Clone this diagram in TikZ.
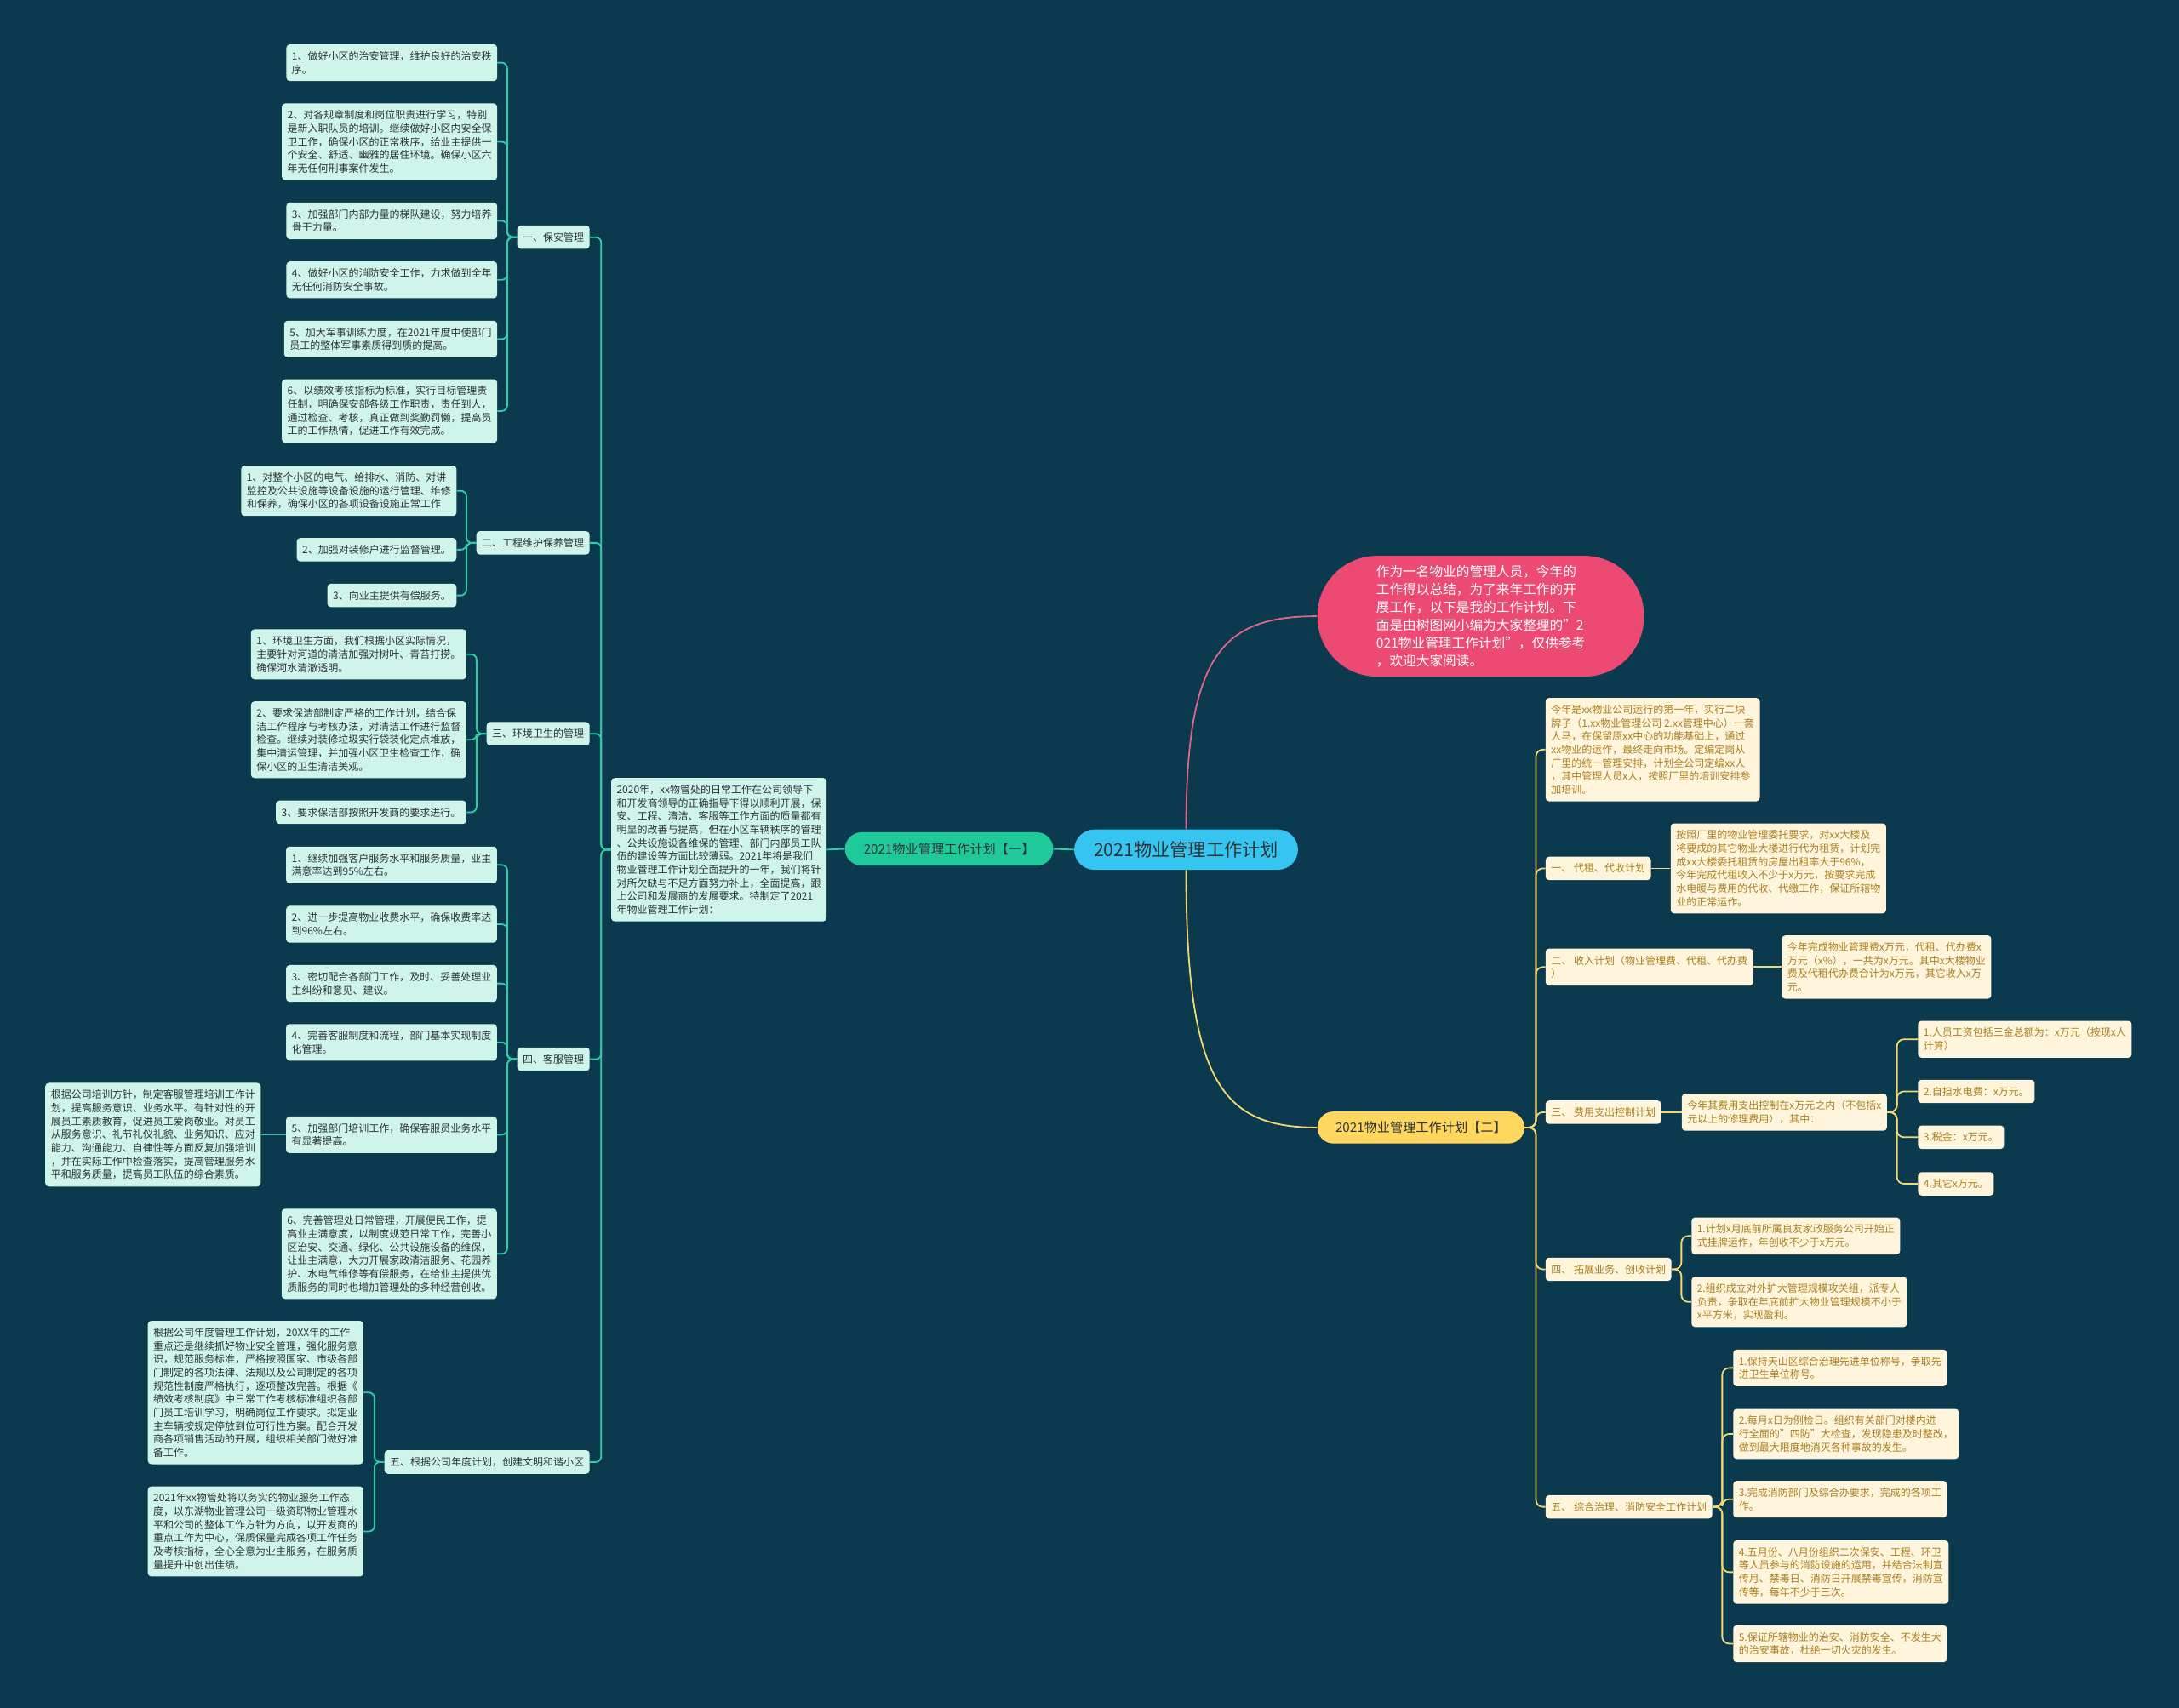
\documentclass[tikz,border=0pt]{standalone}
\usepackage{fontspec}
\setmainfont{Noto Sans CJK SC}
\definecolor{bgc}{HTML}{0B394D}
\definecolor{rootblue}{HTML}{35C5F0}
\definecolor{pinkc}{HTML}{EC4A73}
\definecolor{pinkl}{HTML}{E0648C}
\definecolor{greenc}{HTML}{1FC99A}
\definecolor{tealc}{HTML}{2BD1A6}
\definecolor{yellowc}{HTML}{FFD65E}
\definecolor{yell}{HTML}{F3D872}
\definecolor{mintc}{HTML}{CFF5EB}
\definecolor{creamc}{HTML}{FEF5DC}
\definecolor{inkc}{HTML}{2D3436}
\definecolor{goldc}{HTML}{AA7E1E}
\tikzset{
  rootbox/.style={fill=rootblue, text=inkc, rounded corners=14.5pt, minimum width=161pt, minimum height=29pt, inner sep=0pt, font=\fontsize{13}{15}\selectfont},
  pinkbox/.style={fill=pinkc, text=white, rounded corners=43pt, minimum width=235pt, minimum height=87pt, align=left, font=\fontsize{9.6}{12.8}\selectfont},
  greenbox/.style={fill=greenc, text=inkc, rounded corners=12pt, minimum width=150pt, minimum height=24pt, inner sep=0pt, font=\fontsize{9.3}{11}\selectfont},
  yellowbox/.style={fill=yellowc, text=inkc, rounded corners=11.5pt, minimum width=149pt, minimum height=23pt, inner sep=0pt, font=\fontsize{9.3}{11}\selectfont},
  leafL/.style={fill=mintc, text=inkc, rounded corners=2.5pt, inner xsep=4pt, inner ysep=5pt, align=left, font=\fontsize{7.35}{9.6}\selectfont},
  leafR/.style={leafL, fill=creamc, text=goldc},
  tealline/.style={draw=tealc, line width=1.1pt, rounded corners=4pt},
  yelline/.style={draw=yell, line width=1.1pt, rounded corners=5pt},
  pinkline/.style={draw=pinkl, line width=1.1pt}
}
\begin{document}
\begin{tikzpicture}[x=1pt, y=-1pt]
  \fill[bgc] (0,0) rectangle (1568,1229);
  \useasboundingbox (0,0) rectangle (1568,1229);

  % centre
  \node[rootbox] (root) at (853.5,611.5) {2021物业管理工作计划};
  \node[pinkbox] (intro) at (1065.5,443.5) {作为一名物业的管理人员，今年的\\工作得以总结，为了来年工作的开\\展工作，以下是我的工作计划。下\\面是由树图网小编为大家整理的"2\\021物业管理工作计划"，仅供参考\\，欢迎大家阅读。};
  \node[greenbox] (plan1) at (683,611) {2021物业管理工作计划【一】};
  \node[yellowbox] (plan2) at (1022.5,811.5) {2021物业管理工作计划【二】};
  \draw[pinkline] (root.north) .. controls (853.5,470) and (880,443.5) .. (intro.west);
  \draw[yelline] (root.south) .. controls (853.5,780) and (880,811.5) .. (plan2.west);
  \draw[tealline] (root.west) -- (plan1.east);

  % left half
  \node[leafL, anchor=east] (summary) at (595,611.5) {2020年，xx物管处的日常工作在公司领导下\\和开发商领导的正确指导下得以顺利开展，保\\安、工程、清洁、客服等工作方面的质量都有\\明显的改善与提高，但在小区车辆秩序的管理\\、公共设施设备维保的管理、部门内部员工队\\伍的建设等方面比较薄弱。2021年将是我们\\物业管理工作计划全面提升的一年，我们将针\\对所欠缺与不足方面努力补上，全面提高，跟\\上公司和发展商的发展要求。特制定了2021\\年物业管理工作计划：};
  \draw[tealline] (plan1.west) -- (summary.east);

  \node[leafL, anchor=east] (sa) at (424.5,170.7) {一、保安管理};
  \node[leafL, anchor=east] (gc) at (424.5,390.7) {二、工程维护保养管理};
  \node[leafL, anchor=east] (hj) at (424.5,528.1) {三、环境卫生的管理};
  \node[leafL, anchor=east] (kf) at (424.5,762.3) {四、客服管理};
  \node[leafL, anchor=east] (wm) at (424.5,1052.2) {五、根据公司年度计划，创建文明和谐小区};
  \foreach \br in {sa,gc,hj,kf,wm}
    \draw[tealline] (summary.west) -- ++(-7,0) |- (\br.east);

  \node[leafL, anchor=east] (sa1) at (358,45.1) {1、做好小区的治安管理，维护良好的治安秩\\序。};
  \node[leafL, anchor=east] (sa2) at (358,102) {2、对各规章制度和岗位职责进行学习，特别\\是新入职队员的培训。继续做好小区内安全保\\卫工作，确保小区的正常秩序，给业主提供一\\个安全、舒适、幽雅的居住环境。确保小区六\\年无任何刑事案件发生。};
  \node[leafL, anchor=east] (sa3) at (358,158.9) {3、加强部门内部力量的梯队建设，努力培养\\骨干力量。};
  \node[leafL, anchor=east] (sa4) at (358,201.4) {4、做好小区的消防安全工作，力求做到全年\\无任何消防安全事故。};
  \node[leafL, anchor=east] (sa5) at (358,244) {5、加大军事训练力度，在2021年度中使部门\\员工的整体军事素质得到质的提高。};
  \node[leafL, anchor=east] (sa6) at (358,295.8) {6、以绩效考核指标为标准，实行目标管理责\\任制，明确保安部各级工作职责，责任到人，\\通过检查、考核，真正做到奖勤罚懒，提高员\\工的工作热情，促进工作有效完成。};
  \foreach \n in {1,...,6}
    \draw[tealline] (sa.west) -- ++(-7,0) |- (sa\n.east);

  \node[leafL, anchor=east] (gc1) at (328.7,353.2) {1、对整个小区的电气、给排水、消防、对讲\\监控及公共设施等设备设施的运行管理、维修\\和保养，确保小区的各项设备设施正常工作};
  \node[leafL, anchor=east] (gc2) at (328.7,395.6) {2、加强对装修户进行监督管理。};
  \node[leafL, anchor=east] (gc3) at (328.7,428.5) {3、向业主提供有偿服务。};
  \foreach \n in {1,2,3}
    \draw[tealline] (gc.west) -- ++(-7,0) |- (gc\n.east);

  \node[leafL, anchor=east] (hj1) at (335.8,470.9) {1、环境卫生方面，我们根据小区实际情况，\\主要针对河道的清洁加强对树叶、青苔打捞。\\确保河水清澈透明。};
  \node[leafL, anchor=east] (hj2) at (335.8,532.4) {2、要求保洁部制定严格的工作计划，结合保\\洁工作程序与考核办法，对清洁工作进行监督\\检查。继续对装修垃圾实行袋装化定点堆放，\\集中清运管理，并加强小区卫生检查工作，确\\保小区的卫生清洁美观。};
  \node[leafL, anchor=east] (hj3) at (335.8,584.6) {3、要求保洁部按照开发商的要求进行。};
  \foreach \n in {1,2,3}
    \draw[tealline] (hj.west) -- ++(-7,0) |- (hj\n.east);

  \node[leafL, anchor=east] (kf1) at (357.8,622.5) {1、继续加强客户服务水平和服务质量，业主\\满意率达到95\%左右。};
  \node[leafL, anchor=east] (kf2) at (357.8,665.2) {2、进一步提高物业收费水平，确保收费率达\\到96\%左右。};
  \node[leafL, anchor=east] (kf3) at (357.8,707.8) {3、密切配合各部门工作，及时、妥善处理业\\主纠纷和意见、建议。};
  \node[leafL, anchor=east] (kf4) at (357.8,750.2) {4、完善客服制度和流程，部门基本实现制度\\化管理。};
  \node[leafL, anchor=east] (kf5) at (357.8,816.7) {5、加强部门培训工作，确保客服员业务水平\\有显著提高。};
  \node[leafL, anchor=east] (kf6) at (357.8,902.4) {6、完善管理处日常管理，开展便民工作，提\\高业主满意度，以制度规范日常工作，完善小\\区治安、交通、绿化、公共设施设备的维保，\\让业主满意，大力开展家政清洁服务、花园养\\护、水电气维修等有偿服务，在给业主提供优\\质服务的同时也增加管理处的多种经营创收。};
  \foreach \n in {1,...,6}
    \draw[tealline] (kf.west) -- ++(-7,0) |- (kf\n.east);
  \node[leafL, anchor=east] (kf5a) at (187.8,816.7) {根据公司培训方针，制定客服管理培训工作计\\划，提高服务意识、业务水平。有针对性的开\\展员工素质教育，促进员工爱岗敬业。对员工\\从服务意识、礼节礼仪礼貌、业务知识、应对\\能力、沟通能力、自律性等方面反复加强培训\\，并在实际工作中检查落实，提高管理服务水\\平和服务质量，提高员工队伍的综合素质。};
  \draw[tealline] (kf5.west) -- (kf5a.east);

  \node[leafL, anchor=east] (wm1) at (261.6,1002.2) {根据公司年度管理工作计划，20XX年的工作\\重点还是继续抓好物业安全管理，强化服务意\\识，规范服务标准，严格按照国家、市级各部\\门制定的各项法律、法规以及公司制定的各项\\规范性制度严格执行，逐项整改完善。根据《\\绩效考核制度》中日常工作考核标准组织各部\\门员工培训学习，明确岗位工作要求。拟定业\\主车辆按规定停放到位可行性方案。配合开发\\商各项销售活动的开展，组织相关部门做好准\\备工作。};
  \node[leafL, anchor=east] (wm2) at (261.6,1102.2) {2021年xx物管处将以务实的物业服务工作态\\度，以东湖物业管理公司一级资职物业管理水\\平和公司的整体工作方针为方向，以开发商的\\重点工作为中心，保质保量完成各项工作任务\\及考核指标，全心全意为业主服务，在服务质\\量提升中创出佳绩。};
  \foreach \n in {1,2}
    \draw[tealline] (wm.west) -- ++(-7,0) |- (wm\n.east);

  % right half
  \node[leafR, anchor=west] (jn) at (1112,539.5) {今年是xx物业公司运行的第一年，实行二块\\牌子（1.xx物业管理公司 2.xx管理中心）一套\\人马，在保留原xx中心的功能基础上，通过\\xx物业的运作，最终走向市场。定编定岗从\\厂里的统一管理安排，计划全公司定编xx人\\，其中管理人员x人，按照厂里的培训安排参\\加培训。};
  \node[leafR, anchor=west] (dz) at (1112,625) {一、 代租、代收计划};
  \node[leafR, anchor=west] (sr) at (1112,696) {二、 收入计划（物业管理费、代租、代办费\\）};
  \node[leafR, anchor=west] (fy) at (1112,800.5) {三、 费用支出控制计划};
  \node[leafR, anchor=west] (tz) at (1112,913.5) {四、 拓展业务、创收计划};
  \node[leafR, anchor=west] (zz) at (1112,1084.5) {五、 综合治理、消防安全工作计划};
  \foreach \br in {jn,dz,sr,fy,tz,zz}
    \draw[yelline] (plan2.east) -- ++(8,0) |- (\br.west);

  \node[leafR, anchor=west] (dz1) at (1202,625) {按照厂里的物业管理委托要求，对xx大楼及\\将要成的其它物业大楼进行代为租赁，计划完\\成xx大楼委托租赁的房屋出租率大于96\%，\\今年完成代租收入不少于x万元，按要求完成\\水电暖与费用的代收、代缴工作，保证所辖物\\业的正常运作。};
  \draw[yelline] (dz.east) -- (dz1.west);
  \node[leafR, anchor=west] (sr1) at (1282,696) {今年完成物业管理费x万元，代租、代办费x\\万元（x\%），一共为x万元。其中x大楼物业\\费及代租代办费合计为x万元，其它收入x万\\元。};
  \draw[yelline] (sr.east) -- (sr1.west);

  \node[leafR, anchor=west] (fy1) at (1210,800.5) {今年其费用支出控制在x万元之内（不包括x\\元以上的修理费用），其中：};
  \draw[yelline] (fy.east) -- (fy1.west);
  \node[leafR, anchor=west] (fy1a) at (1380,748) {1.人员工资包括三金总额为：x万元（按现x人\\计算）};
  \node[leafR, anchor=west] (fy1b) at (1380,785.5) {2.自担水电费：x万元。};
  \node[leafR, anchor=west] (fy1c) at (1380,818.5) {3.税金：x万元。};
  \node[leafR, anchor=west] (fy1d) at (1380,852) {4.其它x万元。};
  \foreach \n in {a,b,c,d}
    \draw[yelline] (fy1.east) -- ++(7,0) |- (fy1\n.west);

  \node[leafR, anchor=west] (tz1) at (1217,889.5) {1.计划x月底前所属良友家政服务公司开始正\\式挂牌运作，年创收不少于x万元。};
  \node[leafR, anchor=west] (tz2) at (1217,937) {2.组织成立对外扩大管理规模攻关组，派专人\\负责，争取在年底前扩大物业管理规模不小于\\x平方米，实现盈利。};
  \foreach \n in {1,2}
    \draw[yelline] (tz.east) -- ++(7,0) |- (tz\n.west);

  \node[leafR, anchor=west] (zz1) at (1247,984.5) {1.保持天山区综合治理先进单位称号，争取先\\进卫生单位称号。};
  \node[leafR, anchor=west] (zz2) at (1247,1032) {2.每月x日为例检日。组织有关部门对楼内进\\行全面的"四防"大检查，发现隐患及时整改，\\做到最大限度地消灭各种事故的发生。};
  \node[leafR, anchor=west] (zz3) at (1247,1079) {3.完成消防部门及综合办要求，完成的各项工\\作。};
  \node[leafR, anchor=west] (zz4) at (1247,1131.5) {4.五月份、八月份组织二次保安、工程、环卫\\等人员参与的消防设施的运用，并结合法制宣\\传月、禁毒日、消防日开展禁毒宣传，消防宣\\传等，每年不少于三次。};
  \node[leafR, anchor=west] (zz5) at (1247,1183) {5.保证所辖物业的治安、消防安全、不发生大\\的治安事故，杜绝一切火灾的发生。};
  \foreach \n in {1,...,5}
    \draw[yelline] (zz.east) -- ++(7,0) |- (zz\n.west);
\end{tikzpicture}
\end{document}
